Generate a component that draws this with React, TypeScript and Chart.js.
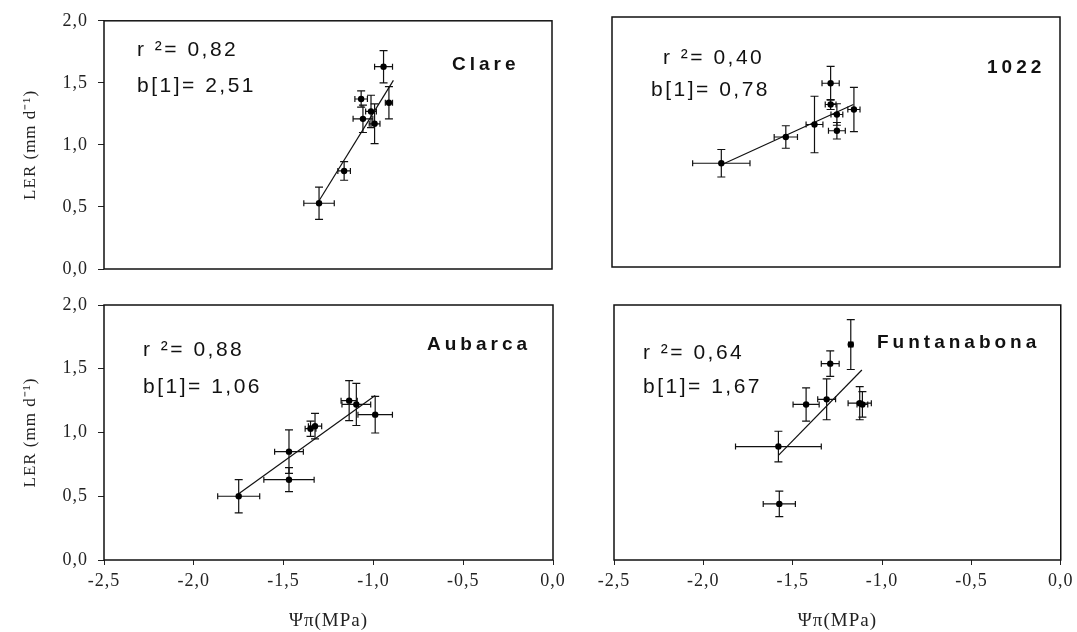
import React, { useEffect, useRef } from 'react';
import { Chart, registerables } from 'chart.js';

Chart.register(...registerables);

// ---- axis ticks ----
const xTickValues = [-2.5, -2.0, -1.5, -1.0, -0.5, 0.0];
const xTickLabels = ['-2,5', '-2,0', '-1,5', '-1,0', '-0,5', '0,0'];
const yTickValues = [0.0, 0.5, 1.0, 1.5, 2.0];
const yTickLabels = ['0,0', '0,5', '1,0', '1,5', '2,0'];

// ---- panel labels ----
const panelNames = ['Clare', '1022', 'Aubarca', 'Funtanabona'];
const r2Labels = ['r \u00B2= 0,82', 'r \u00B2= 0,40', 'r \u00B2= 0,88', 'r \u00B2= 0,64'];
const slopeLabels = ['b[1]= 2,51', 'b[1]= 0,78', 'b[1]= 1,06', 'b[1]= 1,67'];

// ---- Clare ----
const clareX = [-1.30, -1.16, -1.065, -1.055, -1.01, -0.99, -0.94, -0.91];
const clareY = [0.53, 0.79, 1.37, 1.21, 1.27, 1.17, 1.63, 1.34];
const clareXErr = [0.085, 0.035, 0.035, 0.055, 0.03, 0.03, 0.05, 0.02];
const clareYErr = [0.13, 0.075, 0.065, 0.11, 0.13, 0.16, 0.13, 0.13];
const clareFitX = [-1.30, -0.885];
const clareFitY = [0.55, 1.52];

// ---- 1022 ----
const l1022X = [-1.89, -1.53, -1.37, -1.28, -1.28, -1.245, -1.245, -1.15];
const l1022Y = [0.83, 1.04, 1.14, 1.47, 1.30, 1.22, 1.09, 1.26];
const l1022XErr = [0.16, 0.065, 0.047, 0.048, 0.03, 0.033, 0.047, 0.034];
const l1022YErr = [0.11, 0.09, 0.226, 0.135, 0.04, 0.086, 0.066, 0.177];
const l1022FitX = [-1.886, -1.153];
const l1022FitY = [0.82, 1.30];

// ---- Aubarca ----
const aubX = [-1.75, -1.47, -1.47, -1.35, -1.325, -1.135, -1.095, -0.99];
const aubY = [0.50, 0.85, 0.63, 1.03, 1.05, 1.25, 1.22, 1.14];
const aubXErr = [0.117, 0.08, 0.14, 0.03, 0.037, 0.045, 0.08, 0.096];
const aubYErr = [0.13, 0.17, 0.094, 0.06, 0.10, 0.157, 0.165, 0.144];
const aubFitX = [-1.75, -0.99];
const aubFitY = [0.52, 1.29];

// ---- Funtanabona ----
const funX = [-1.58, -1.575, -1.425, -1.31, -1.29, -1.175, -1.125, -1.11];
const funY = [0.89, 0.44, 1.22, 1.26, 1.54, 1.69, 1.23, 1.22];
const funXErr = [0.24, 0.09, 0.073, 0.05, 0.05, 0.012, 0.065, 0.03];
const funYErr = [0.12, 0.10, 0.13, 0.16, 0.10, 0.196, 0.13, 0.10];
const funFitX = [-1.58, -1.113];
const funFitY = [0.82, 1.49];

const W = 1077;
const H = 632;

const SERIES = [
  { x: clareX, y: clareY, xe: clareXErr, ye: clareYErr, fx: clareFitX, fy: clareFitY },
  { x: l1022X, y: l1022Y, xe: l1022XErr, ye: l1022YErr, fx: l1022FitX, fy: l1022FitY },
  { x: aubX, y: aubY, xe: aubXErr, ye: aubYErr, fx: aubFitX, fy: aubFitY },
  { x: funX, y: funY, xe: funXErr, ye: funYErr, fx: funFitX, fy: funFitY },
];

// layout of each panel (plot area in page pixels) and text offsets relative to plot area
const PANELS = [
  { area: { l: 104, t: 19, r: 552, b: 269 }, left: true, bottom: false,
    r2: [33, 29], sl: [33, 65], nm: [348, 44] },
  { area: { l: 612, t: 17, r: 1060, b: 267 }, left: false, bottom: false,
    r2: [51, 41], sl: [39, 73], nm: [375, 51] },
  { area: { l: 104, t: 305, r: 553, b: 560 }, left: true, bottom: true,
    r2: [39, 45], sl: [39, 82], nm: [323, 40] },
  { area: { l: 614, t: 305, r: 1062, b: 560 }, left: false, bottom: true,
    r2: [29, 48], sl: [29, 82], nm: [263, 38] },
];

const SERIF = '"Liberation Serif", "Times New Roman", serif';
const SANS = '"Liberation Sans", Arial, sans-serif';

function makeChart(canvas: HTMLCanvasElement, idx: number) {
  const p = PANELS[idx];
  const s = SERIES[idx];
  const a = p.area;
  const yAxisW = p.left ? a.l : 10;
  const padL = a.l - yAxisW;
  const xAxisH = p.bottom ? H - a.b : 10;
  const padB = H - a.b - xAxisH;

  const pts = s.x.map((xv, i) => ({ x: xv, y: s.y[i] }));
  const fit = s.fx.map((xv, i) => ({ x: xv, y: s.fy[i] }));

  const spacingPlugin = {
    id: 'spacing',
    beforeDraw(chart: any) {
      chart.ctx.letterSpacing = '1px';
    },
  };

  const framePlugin = {
    id: 'frame',
    afterDraw(chart: any) {
      const { ctx, chartArea: ca } = chart;
      ctx.save();
      ctx.strokeStyle = '#111';
      ctx.lineWidth = 1.5;
      ctx.strokeRect(ca.left, ca.top, ca.right - ca.left, ca.bottom - ca.top);
      ctx.restore();
    },
  };

  const errPlugin = {
    id: 'errbars',
    beforeDatasetsDraw(chart: any) {
      const { ctx } = chart;
      const xs = chart.scales.x;
      const ys = chart.scales.y;
      ctx.save();
      ctx.strokeStyle = '#111';
      ctx.lineWidth = 1.2;
      s.x.forEach((xv, i) => {
        const yv = s.y[i];
        const px = xs.getPixelForValue(xv);
        const py = ys.getPixelForValue(yv);
        const x1 = xs.getPixelForValue(xv - s.xe[i]);
        const x2 = xs.getPixelForValue(xv + s.xe[i]);
        const y1 = ys.getPixelForValue(yv - s.ye[i]);
        const y2 = ys.getPixelForValue(yv + s.ye[i]);
        ctx.beginPath();
        ctx.moveTo(x1, py); ctx.lineTo(x2, py);
        ctx.moveTo(x1, py - 3); ctx.lineTo(x1, py + 3);
        ctx.moveTo(x2, py - 3); ctx.lineTo(x2, py + 3);
        ctx.moveTo(px, y1); ctx.lineTo(px, y2);
        ctx.moveTo(px - 4, y1); ctx.lineTo(px + 4, y1);
        ctx.moveTo(px - 4, y2); ctx.lineTo(px + 4, y2);
        ctx.stroke();
      });
      ctx.restore();
    },
  };

  const textPlugin = {
    id: 'texts',
    afterDraw(chart: any) {
      const { ctx, chartArea: ca } = chart;
      ctx.save();
      ctx.fillStyle = '#111';
      ctx.textAlign = 'left';
      ctx.textBaseline = 'middle';
      ctx.letterSpacing = '2.5px';
      ctx.font = `21px ${SANS}`;
      ctx.fillText(r2Labels[idx], ca.left + p.r2[0], ca.top + p.r2[1]);
      ctx.fillText(slopeLabels[idx], ca.left + p.sl[0], ca.top + p.sl[1]);
      ctx.letterSpacing = '4px';
      ctx.font = `bold 19px ${SANS}`;
      ctx.fillText(panelNames[idx], ca.left + p.nm[0], ca.top + p.nm[1]);
      ctx.restore();
    },
  };

  return new Chart(canvas, {
    type: 'scatter',
    data: {
      datasets: [
        {
          type: 'scatter',
          data: pts,
          pointRadius: 3.2,
          pointBackgroundColor: '#000',
          pointBorderColor: '#000',
          pointBorderWidth: 0,
        } as any,
        {
          type: 'line',
          data: fit,
          borderColor: '#111',
          borderWidth: 1.2,
          pointRadius: 0,
          fill: false,
          tension: 0,
        } as any,
      ],
    },
    options: {
      animation: false,
      responsive: false,
      devicePixelRatio: 1,
      events: [],
      layout: { padding: { left: padL, top: a.t, right: W - a.r, bottom: padB } },
      plugins: { legend: { display: false }, tooltip: { enabled: false } },
      scales: {
        x: {
          type: 'linear',
          min: -2.5,
          max: 0,
          afterBuildTicks: (sc: any) => {
            sc.ticks = xTickValues.map((v) => ({ value: v }));
          },
          afterFit: (sc: any) => {
            sc.height = xAxisH;
          },
          ticks: {
            display: p.bottom,
            autoSkip: false,
            maxRotation: 0,
            padding: 5,
            color: '#222',
            font: { family: SERIF, size: 18 },
            callback: (_v: any, i: number) => xTickLabels[i],
          },
          grid: {
            display: p.bottom,
            drawOnChartArea: false,
            drawTicks: true,
            tickLength: 5,
            color: '#222',
            lineWidth: 1,
          },
          border: { display: false },
          title: {
            display: p.bottom,
            text: '\u03A8\u03C0(MPa)',
            color: '#222',
            font: { family: SERIF, size: 19 },
            padding: { top: 0, bottom: 0 },
          },
        },
        y: {
          type: 'linear',
          min: 0,
          max: 2,
          afterBuildTicks: (sc: any) => {
            sc.ticks = yTickValues.map((v) => ({ value: v }));
          },
          afterFit: (sc: any) => {
            sc.width = yAxisW;
          },
          ticks: {
            display: p.left,
            autoSkip: false,
            padding: 10,
            color: '#222',
            font: { family: SERIF, size: 18 },
            callback: (_v: any, i: number) => yTickLabels[i],
          },
          grid: {
            display: p.left,
            drawOnChartArea: false,
            drawTicks: true,
            tickLength: 6,
            color: '#222',
            lineWidth: 1,
          },
          border: { display: false },
          title: {
            display: p.left,
            text: 'LER (mm d\u207B\u00B9)',
            color: '#222',
            font: { family: SERIF, size: 17 },
            padding: { top: 20, bottom: 0 },
          },
        },
      },
    } as any,
    plugins: [spacingPlugin, errPlugin, framePlugin, textPlugin],
  });
}

function Panel({ idx }: { idx: number }) {
  const ref = useRef<HTMLCanvasElement | null>(null);
  useEffect(() => {
    if (!ref.current) return;
    const chart = makeChart(ref.current, idx);
    return () => chart.destroy();
  }, [idx]);
  return (
    <canvas
      ref={ref}
      width={W}
      height={H}
      style={{ position: 'absolute', left: 0, top: 0, width: W, height: H }}
    />
  );
}

export default function App() {
  return (
    <div style={{ position: 'absolute', left: 0, top: 0, width: W, height: H, background: '#fff' }}>
      {[0, 1, 2, 3].map((i) => (
        <Panel key={i} idx={i} />
      ))}
    </div>
  );
}
